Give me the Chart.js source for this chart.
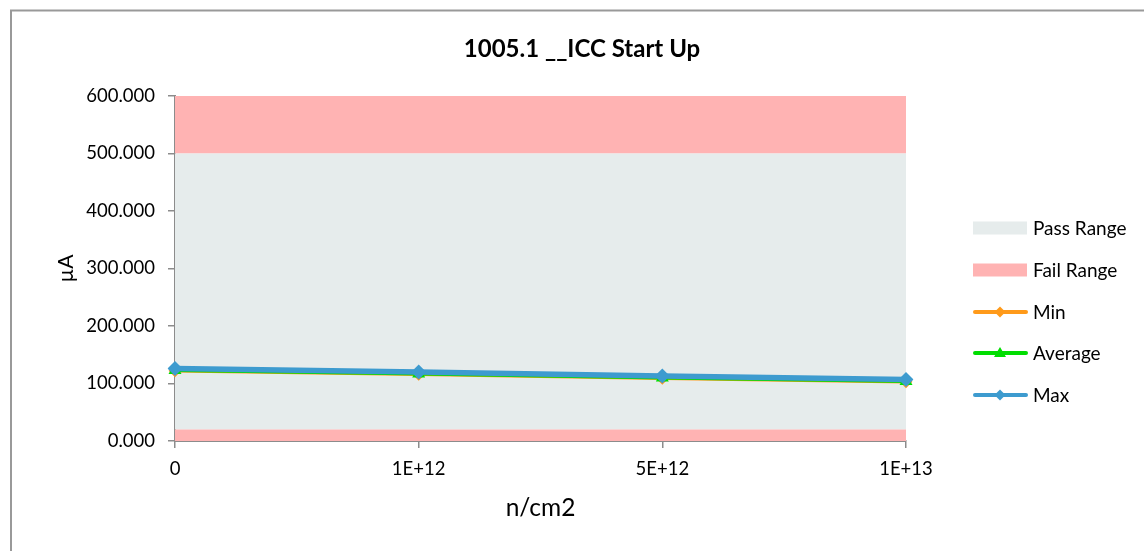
<!DOCTYPE html>
<html>
<head>
<meta charset="utf-8">
<script src="https://cdn.jsdelivr.net/npm/chart.js@4.4.1/dist/chart.umd.min.js"></script>
<style>
html,body{margin:0;padding:0;background:#fff;}
#wrap{width:1144px;height:551px;position:relative;}
</style>
</head>
<body>
<div id="wrap"><canvas id="c" width="1144" height="551"></canvas></div>
<script>
const categories = ['0', '1E+12', '5E+12', '1E+13'];
const minValues = [122, 116, 109, 103];
const avgValues = [123, 117, 110, 104];
const maxValues = [126, 120, 113, 107];
const failLow = [20, 20, 20, 20];
const passHigh = [500, 500, 500, 500];
const failHigh = [600, 600, 600, 600];
const yTicks = [0, 100, 200, 300, 400, 500, 600];

const FONT = 'Lato';
const PASS = '#E6ECEC';
const FAIL = '#FFB3B3';
const ORANGE = '#FF9A1A';
const GREEN = '#00DD00';
const BLUE = '#3D9BCF';
const AXIS = '#8C8C8C';

const legendItems = [
  {label:'Pass Range', type:'box', color:PASS},
  {label:'Fail Range', type:'box', color:FAIL},
  {label:'Min', type:'line', color:ORANGE, marker:'diamond'},
  {label:'Average', type:'line', color:GREEN, marker:'triangle'},
  {label:'Max', type:'line', color:BLUE, marker:'diamond'}
];

const decor = {
  id:'decor',
  afterDraw(chart){
    const ctx = chart.ctx;
    const area = chart.chartArea;
    ctx.save();
    // border
    ctx.strokeStyle = '#999';
    ctx.lineWidth = 2;
    ctx.strokeRect(11, 10.5, 1300, 700);
    // title
    ctx.fillStyle = '#000';
    ctx.font = 'bold 24px ' + FONT;
    ctx.textAlign = 'center';
    ctx.textBaseline = 'alphabetic';
    ctx.fillText('1005.1 __ICC Start Up', 582, 57);
    // x title
    ctx.font = '24.5px ' + FONT;
    ctx.fillText('n/cm2', (area.left + area.right) / 2, 516);
    // y title
    ctx.save();
    ctx.translate(73, (area.top + area.bottom) / 2);
    ctx.rotate(-Math.PI / 2);
    ctx.font = '21px ' + FONT;
    ctx.fillText('\u00B5A', 0, 0);
    ctx.restore();
    // legend
    ctx.font = '19px ' + FONT;
    ctx.textAlign = 'left';
    ctx.textBaseline = 'middle';
    const ys = [228, 270, 312, 353, 395];
    legendItems.forEach((it, i) => {
      const y = ys[i];
      if (it.type === 'box') {
        ctx.fillStyle = it.color;
        ctx.fillRect(973, y - 6.5, 54, 13);
      } else {
        ctx.strokeStyle = it.color;
        ctx.lineWidth = 4;
        ctx.lineCap = 'round';
        ctx.beginPath();
        ctx.moveTo(975, y);
        ctx.lineTo(1026, y);
        ctx.stroke();
        ctx.fillStyle = it.color;
        ctx.beginPath();
        if (it.marker === 'diamond') {
          ctx.moveTo(1000, y - 5.5); ctx.lineTo(1005.5, y); ctx.lineTo(1000, y + 5.5); ctx.lineTo(994.5, y);
        } else {
          ctx.moveTo(1000, y - 6); ctx.lineTo(1006, y + 4); ctx.lineTo(994, y + 4);
        }
        ctx.closePath();
        ctx.fill();
      }
      ctx.fillStyle = '#000';
      ctx.fillText(it.label, 1033, y + 1);
    });
    ctx.restore();
  }
};

const rangeDs = (label, data, color, fill) => ({
  label, data, backgroundColor: color, borderWidth: 0, borderColor: 'rgba(0,0,0,0)',
  pointRadius: 0, pointHoverRadius: 0, fill, tension: 0
});

new Chart(document.getElementById('c'), {
  type: 'line',
  data: {
    labels: categories,
    datasets: [
      {label:'Max', data:maxValues, borderColor:BLUE, backgroundColor:BLUE, borderWidth:5.5,
       pointStyle:'rectRot', pointRadius:7.5, pointBorderWidth:0, fill:false},
      {label:'Average', data:avgValues, borderColor:GREEN, backgroundColor:GREEN, borderWidth:3.5,
       pointStyle:'triangle', pointRadius:7.5, pointBorderWidth:0, fill:false},
      {label:'Min', data:minValues, borderColor:ORANGE, backgroundColor:ORANGE, borderWidth:3.5,
       pointStyle:'rectRot', pointRadius:6.5, pointBorderWidth:0, fill:false},
      rangeDs('Fail Range Low', failLow, FAIL, 'origin'),
      rangeDs('Pass Range', passHigh, PASS, '-1'),
      rangeDs('Fail Range', failHigh, FAIL, '-1')
    ]
  },
  options: {
    responsive: false,
    animation: false,
    layout: {padding: {left: 0, right: 238, top: 96, bottom: 0}},
    plugins: {legend: {display: false}, title: {display: false}, tooltip: {enabled: false}},
    scales: {
      x: {
        type: 'category',
        offset: false,
        grid: {display: true, drawOnChartArea: false, drawTicks: true, tickLength: 7, color: AXIS, lineWidth: 1.5},
        border: {display: true, color: AXIS, width: 2},
        ticks: {color: '#000', font: {family: FONT, size: 18.5}, padding: 10, maxRotation: 0, autoSkip: false},
        afterFit(s){ s.height = 110; }
      },
      y: {
        min: 0, max: 600,
        afterBuildTicks(s){ s.ticks = yTicks.map(v => ({value: v})); },
        grid: {display: true, drawOnChartArea: false, drawTicks: true, tickLength: 7, color: AXIS, lineWidth: 1.5},
        border: {display: true, color: AXIS, width: 2},
        ticks: {color: '#000', font: {family: FONT, size: 18.5}, padding: 13,
                callback: v => Number(v).toFixed(3)},
        afterFit(s){ s.width = 175; }
      }
    }
  },
  plugins: [decor]
});
</script>
</body>
</html>
